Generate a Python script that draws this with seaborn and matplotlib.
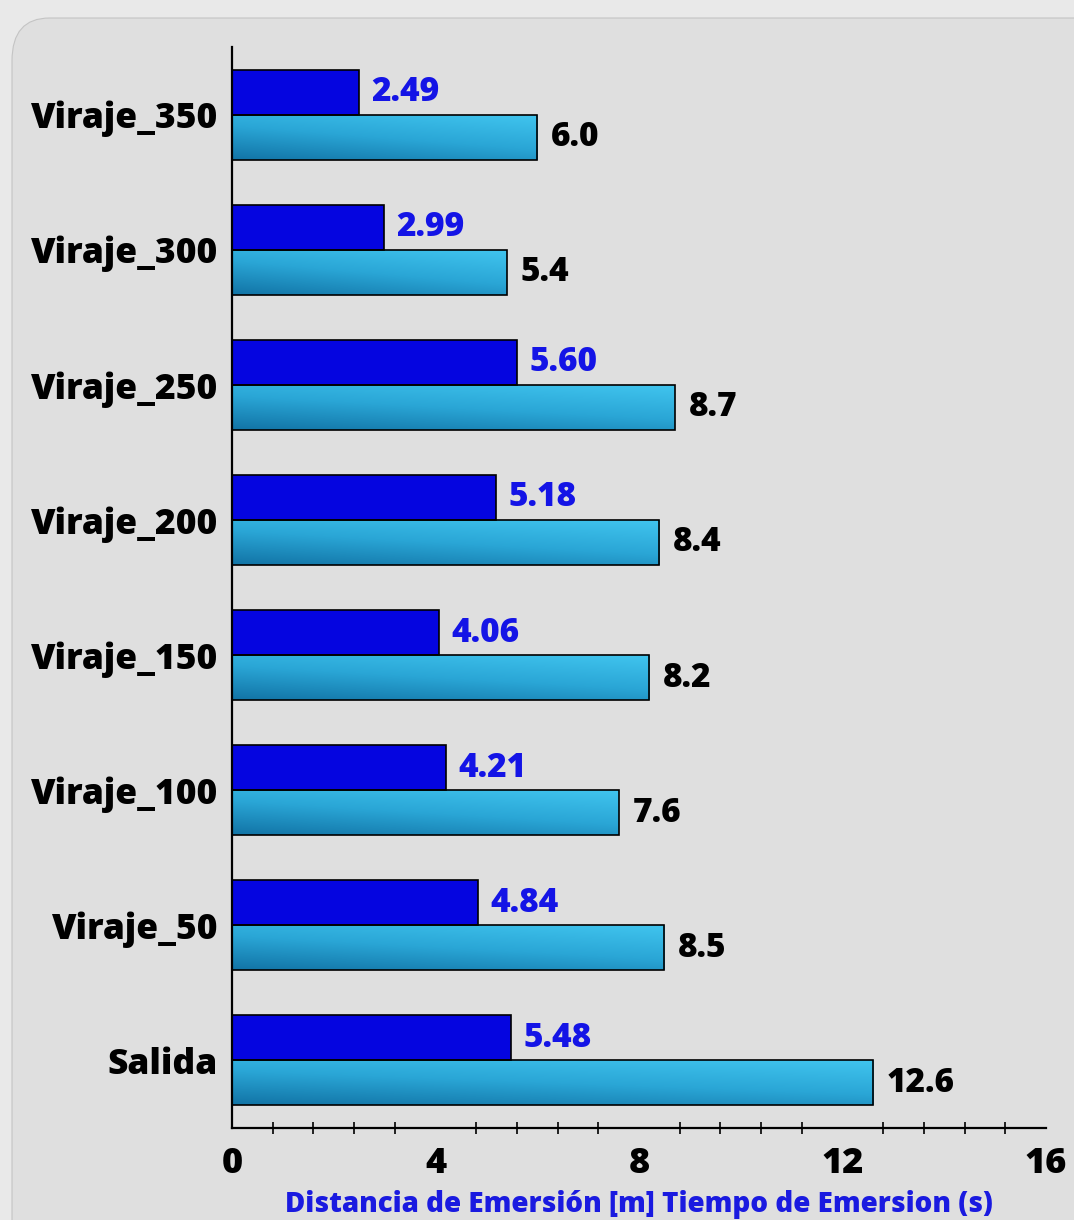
import numpy as np
import pandas as pd
import matplotlib
matplotlib.use("Agg")
import matplotlib.pyplot as plt
import seaborn as sns
from matplotlib.ticker import MultipleLocator, FixedLocator
from matplotlib.patches import FancyBboxPatch
from matplotlib.colors import LinearSegmentedColormap

categories = ["Viraje_350", "Viraje_300", "Viraje_250", "Viraje_200",
              "Viraje_150", "Viraje_100", "Viraje_50", "Salida"]
distancia = [2.49, 2.99, 5.60, 5.18, 4.06, 4.21, 4.84, 5.48]
tiempo = [6.0, 5.4, 8.7, 8.4, 8.2, 7.6, 8.5, 12.6]
series_names = ["Distancia de Emersión [m]", "Tiempo de Emersion (s)"]
x_ticks = [0, 4, 8, 12, 16]

df = pd.DataFrame({
    "cat": categories * 2,
    "val": distancia + tiempo,
    "serie": [series_names[0]] * len(categories) + [series_names[1]] * len(categories),
})

sns.set_theme(style="white")
FONT = ["Open Sans", "DejaVu Sans"]
plt.rcParams["font.family"] = FONT
plt.rcParams["text.color"] = "black"
plt.rcParams["xtick.labelcolor"] = "black"
plt.rcParams["ytick.labelcolor"] = "black"
W = 800

fig = plt.figure(figsize=(10.74, 12.2), dpi=100)
fig.patch.set_facecolor("#e9e9e9")
panel = FancyBboxPatch((12 / 1074, -0.05), 1.2, (1220 - 18) / 1220 + 0.05,
                       boxstyle="round,pad=0,rounding_size=0.035",
                       transform=fig.transFigure, facecolor="#dfdfdf",
                       edgecolor="#c4c4c4", linewidth=0.8, zorder=-5)
fig.patches.append(panel)

ax = fig.add_axes([232 / 1074, 92 / 1220, (1046 - 232) / 1074, (1128 - 47) / 1220])
ax.set_facecolor("none")

sns.barplot(data=df, y="cat", x="val", hue="serie", orient="h",
            palette=["#0505e0", "#2aa6d6"], width=0.666, dodge=True,
            edgecolor="black", linewidth=1.2, ax=ax, legend=False, saturation=1)

ax.set_xlim(0, 16)
ax.set_ylim(7.5, -0.5)

# gradient on light bars
cmap = LinearSegmentedColormap.from_list("g", ["#1274a6", "#2aa6d6", "#40c4ee"])
gy = np.linspace(1, 0, 50)[:, None]
gx = np.linspace(0, 1, 200)[None, :]
grad = 0.65 * gy + 0.35 * gx
light = ax.containers[1]
for p in light.patches:
    x0, y0 = p.get_x(), p.get_y()
    w, h = p.get_width(), p.get_height()
    im = ax.imshow(grad, cmap=cmap, vmin=0, vmax=1, aspect="auto",
                   extent=[x0, x0 + w, y0 + h, y0], zorder=p.get_zorder() - 0.01,
                   interpolation="bicubic")
    im.set_clip_path(p)
    p.set_facecolor("none")
ax.set_xlim(0, 16)
ax.set_ylim(7.5, -0.5)

ax.bar_label(ax.containers[0], labels=[f"{v:.2f}" for v in distancia], padding=9,
             color="#1414e6", fontsize=24, fontweight=W)
ax.bar_label(ax.containers[1], labels=[f"{v:.1f}" for v in tiempo], padding=10,
             color="black", fontsize=24, fontweight=W)

sns.despine(ax=ax, top=True, right=True)
for s in ["left", "bottom"]:
    ax.spines[s].set_color("black")
    ax.spines[s].set_linewidth(1.6)

ax.xaxis.set_major_locator(FixedLocator(x_ticks))
ax.xaxis.set_minor_locator(MultipleLocator(0.8))
ax.tick_params(axis="x", which="major", length=0, pad=13, labelsize=26,
               labelcolor="black")
ax.tick_params(axis="x", which="minor", length=9, width=1.2, direction="inout",
               color="black", bottom=True)
for t in ax.get_xticklabels():
    t.set_fontweight(W)
ax.tick_params(axis="y", length=0, pad=10, labelsize=25.5, labelcolor="black")
for t in ax.get_yticklabels():
    t.set_fontweight(W)

ax.set_ylabel("")
ax.set_xlabel(f"{series_names[0]} {series_names[1]}", color="#1a1ae0",
              fontsize=20, fontweight=W, labelpad=6)

fig.savefig("out.png", dpi=100, facecolor=fig.get_facecolor())
